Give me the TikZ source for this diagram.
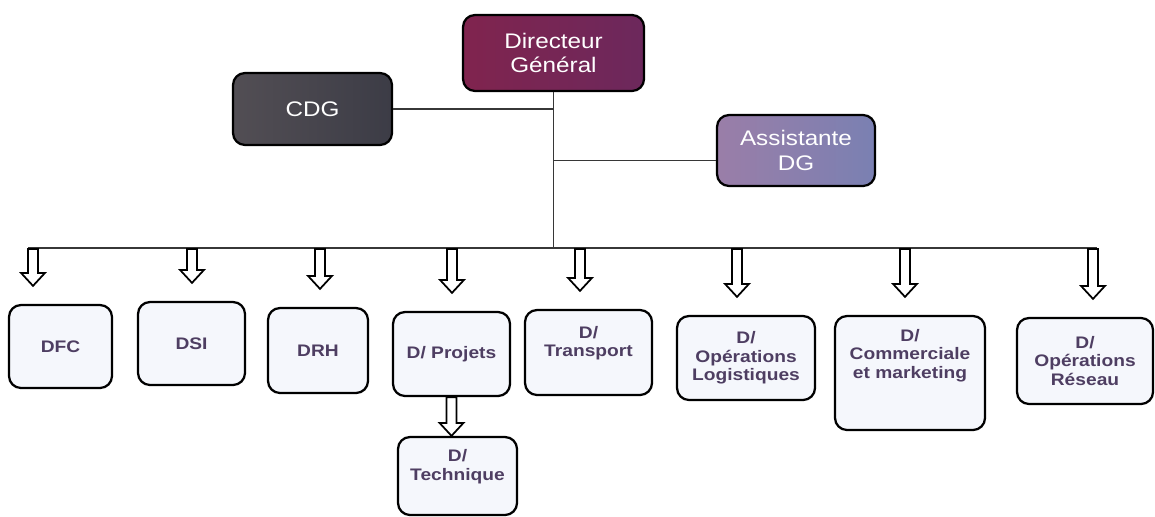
\documentclass[tikz,border=0pt]{standalone}
\usepackage{fontspec}
\newfontfamily\orgfont[FakeStretch=1.15]{Liberation Sans}
\usetikzlibrary{calc}

\definecolor{dgleft}{RGB}{128,36,78}
\definecolor{dgright}{RGB}{108,40,92}
\definecolor{cdgleft}{RGB}{82,78,84}
\definecolor{cdgright}{RGB}{60,60,70}
\definecolor{asleft}{RGB}{154,126,168}
\definecolor{asright}{RGB}{122,128,178}
\definecolor{boxfill}{RGB}{245,247,252}
\definecolor{depttext}{RGB}{78,62,98}
\definecolor{linkgray}{RGB}{55,55,55}

% hollow block arrow going straight down, #1 = gap left above the target
\tikzset{hollow/.style={draw=black,fill=white,line width=0.35mm,line join=miter,
  to path={let \p1=(\tikztostart), \p2=(\tikztotarget) in
    (\x1-1mm,\y1) -- (\x1-1mm,\y2+#1+2.6mm) -- (\x1-2.4mm,\y2+#1+2.6mm)
    -- (\x1,\y2+#1) -- (\x1+2.4mm,\y2+#1+2.6mm) -- (\x1+1mm,\y2+#1+2.6mm)
    -- (\x1+1mm,\y1) -- cycle}},
  hollow/.default=0mm}

\begin{document}
\begin{tikzpicture}[x=0.2mm,y=-0.2mm]
\tikzstyle{head}=[draw=black,line width=0.45mm,rounded corners=2.4mm,text=white,
  align=center,font=\orgfont\fontsize{12}{14}\selectfont]
\tikzstyle{dept}=[draw=black,line width=0.45mm,rounded corners=2.4mm,fill=boxfill,
  text=depttext,align=center,font=\orgfont\bfseries\fontsize{9.5}{10.5}\selectfont]
\tikzstyle{link}=[draw=linkgray,line width=0.25mm]

\fill[white] (0,0) rectangle (1155,516);
\useasboundingbox (0,0) rectangle (1155,516);

% top of the chart
\node[head,left color=dgleft,right color=dgright,minimum width=36.2mm,minimum height=15.2mm]
  (dg) at (553.5,53) {Directeur\\Général};
\node[head,left color=cdgleft,right color=cdgright,minimum width=31.8mm,minimum height=14.4mm]
  (cdg) at (312.5,109) {CDG};
\node[head,left color=asleft,right color=asright,minimum width=31.6mm,minimum height=14.2mm]
  (asst) at (796,150.5) {Assistante\\DG};

% directions
\node[dept,minimum width=20.6mm,minimum height=16.6mm] (dfc) at (60.5,346.5) {DFC};
\node[dept,minimum width=21.4mm,minimum height=16.6mm] (dsi) at (191.5,343.5) {DSI};
\node[dept,minimum width=20mm,minimum height=17mm] (drh) at (318,350.5) {DRH};
\node[dept,minimum width=23.4mm,minimum height=16.8mm] (projets) at (451.5,354) {D/ Projets};
\node[dept,minimum width=25.4mm,minimum height=17mm] (transport) at (588.5,352.5) {D/\\Transport\\[0.7mm]};
\node[dept,minimum width=27.6mm,minimum height=16.8mm] (logist) at (746,358) {D/\\Opérations\\Logistiques};
\node[dept,minimum width=30mm,minimum height=22.8mm] (commerc) at (910,373) {D/\\Commerciale\\et marketing\\[4.1mm]};
\node[dept,minimum width=27.2mm,minimum height=17.2mm] (reseau) at (1085,361) {D/\\Opérations\\Réseau};
\node[dept,minimum width=23.8mm,minimum height=15.6mm] (technique) at (457.5,476) {D/\\Technique\\[0.7mm]};

% links from the DG
\coordinate (bl) at (28,248);
\coordinate (br) at (1097,248);
\draw[link] (dg.south) -- (dg.south |- bl);
\draw[link] (cdg.east) -- (cdg.east -| dg.south);
\draw[link] ([yshift=-2mm]asst.west) -- ([yshift=-2mm]asst.west -| dg.south);
\draw[link] (bl) -- (br);

\foreach \x/\b in {33/dfc,192/dsi,320/drh,452/projets,580/transport,737/logist,905/commerc,1093/reseau}
{
  \coordinate (top-\b) at (\x,249);
  \draw[hollow=3.6mm] (top-\b) to (\b.north);
}

\draw[hollow] (projets.south) to (technique.north);

\end{tikzpicture}
\end{document}
